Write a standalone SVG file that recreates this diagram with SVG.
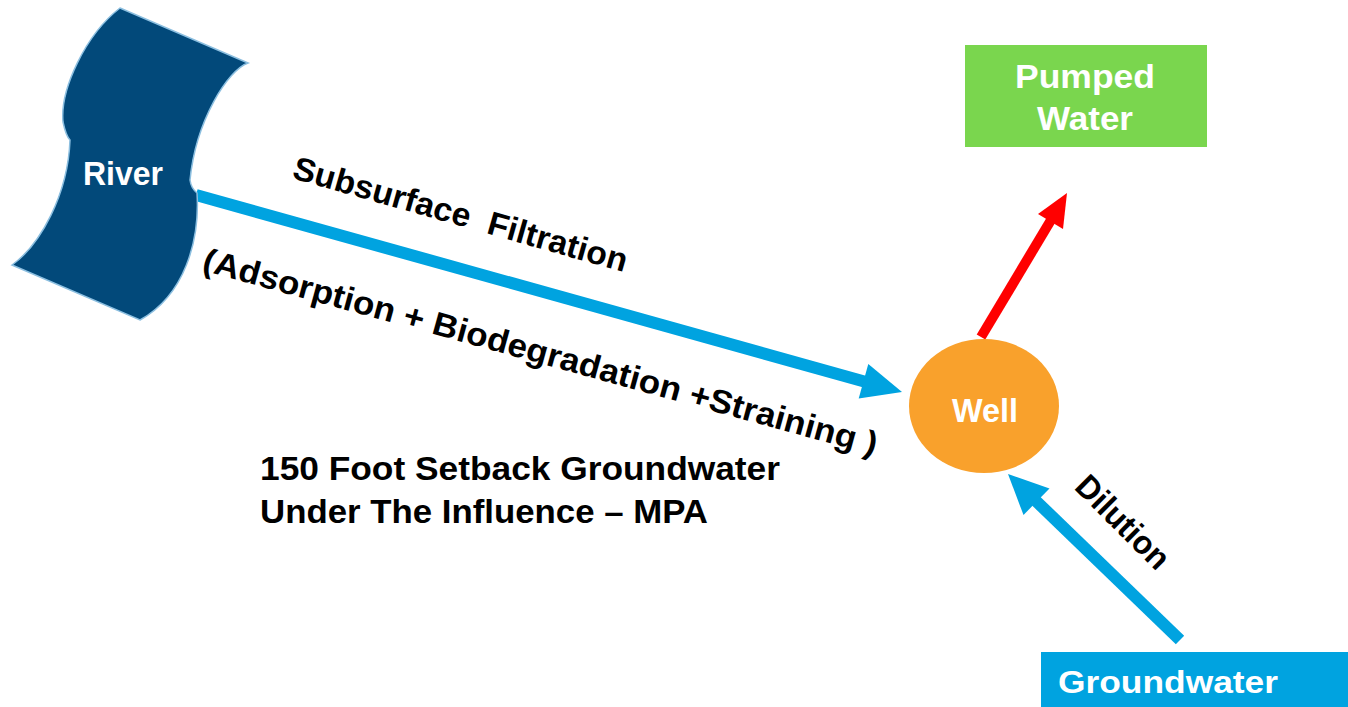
<svg xmlns="http://www.w3.org/2000/svg" width="1348" height="707" viewBox="0 0 1348 707">
  <style>
    text { font-family: "Liberation Sans", Arial, sans-serif; font-weight: bold; white-space: pre; }
    .light { fill: #ffffff; font-size: 34px; }
    .dark { fill: #000000; font-size: 33px; }
    .flow { stroke: #00a3e0; stroke-width: 12; fill: none; }
    .flow-head { fill: #00a3e0; }
    .pump { stroke: #ff0000; stroke-width: 10; fill: none; }
    .pump-head { fill: #ff0000; }
  </style>
  <rect width="1348" height="707" fill="#ffffff"/>

  <!-- connectors -->
  <g id="connectors">
    <line class="flow" x1="196" y1="195" x2="866" y2="382"/>
    <polygon class="flow-head" points="902,392 858.7,398.5 868.3,363.9"/>
    <line class="pump" x1="981" y1="337" x2="1051" y2="220"/>
    <polygon class="pump-head" points="1067,193 1063,229 1038,214"/>
    <line class="flow" x1="1180" y1="640" x2="1035" y2="500"/>
    <polygon class="flow-head" points="1008,474 1049.5,488.5 1023.5,515"/>
  </g>

  <!-- river -->
  <g id="river">
    <path d="M120,8 L248,63 C228,70 196,120 190,180 Q191,188 197,193 C200,240 185,295 140,320 L12,265 C40,245 68,195 70,140 Q66,136 63,122 C60,90 85,35 120,8 Z" fill="#02497a" stroke="#8cbfe0" stroke-width="1.5"/>
    <text class="light" x="83" y="185" textLength="80" lengthAdjust="spacingAndGlyphs">River</text>
  </g>

  <!-- well -->
  <g id="well">
    <ellipse cx="984" cy="406" rx="75" ry="67" fill="#f9a12c"/>
    <text class="light" x="952" y="422" textLength="66" lengthAdjust="spacingAndGlyphs">Well</text>
  </g>

  <!-- pumped water -->
  <g id="pumped-water">
    <rect x="965" y="45" width="242" height="102" fill="#7ad64e"/>
    <text class="light" x="1015" y="88" textLength="140" lengthAdjust="spacingAndGlyphs">Pumped</text>
    <text class="light" x="1037" y="130" textLength="96" lengthAdjust="spacingAndGlyphs">Water</text>
  </g>

  <!-- groundwater -->
  <g id="groundwater">
    <rect x="1041" y="652" width="307" height="55" fill="#00a3e0"/>
    <text class="light" x="1058" y="693" style="font-size:32px" textLength="220" lengthAdjust="spacingAndGlyphs">Groundwater</text>
  </g>

  <!-- labels -->
  <g id="labels">
    <text class="dark" transform="translate(291,178) rotate(15.8)" textLength="346" lengthAdjust="spacingAndGlyphs">Subsurface  Filtration</text>
    <text class="dark" transform="translate(201,270) rotate(15.4)" textLength="698" lengthAdjust="spacingAndGlyphs">(Adsorption + Biodegradation +Straining )</text>
    <text class="dark" transform="translate(1115,530) rotate(45)" text-anchor="middle" textLength="118" lengthAdjust="spacingAndGlyphs">Dilution</text>
    <text class="dark" x="260" y="480" textLength="520" lengthAdjust="spacingAndGlyphs">150 Foot Setback Groundwater</text>
    <text class="dark" x="260" y="523" textLength="448" lengthAdjust="spacingAndGlyphs">Under The Influence – MPA</text>
  </g>
</svg>
